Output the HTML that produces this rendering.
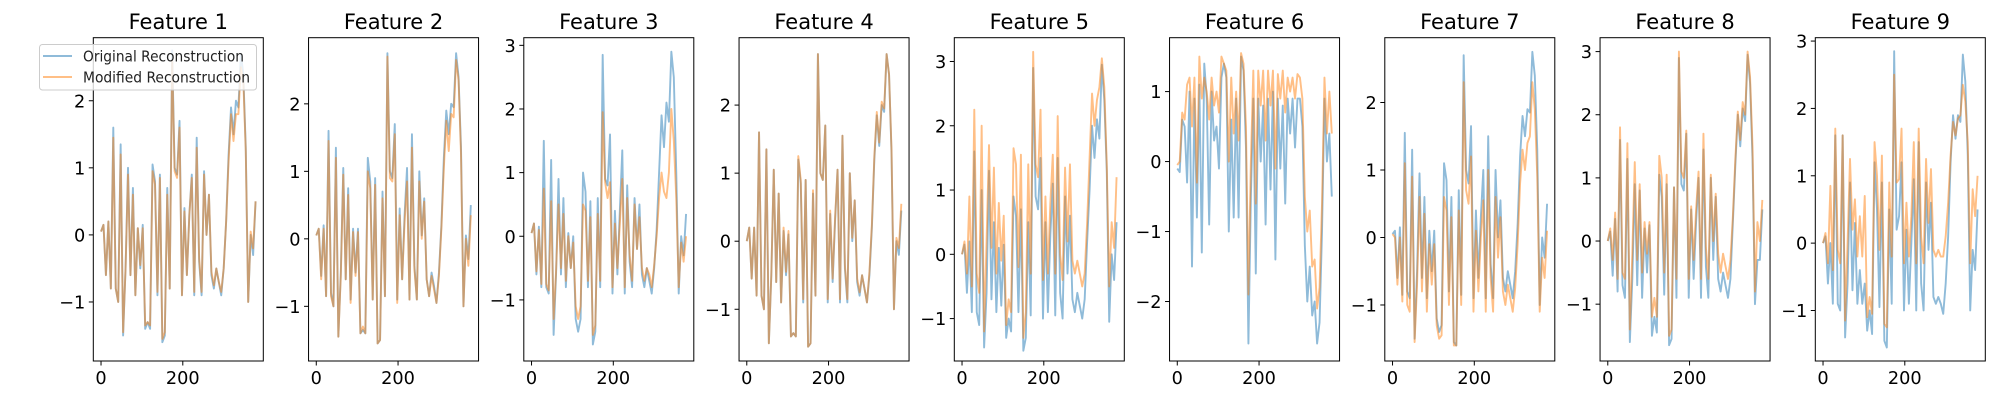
<!DOCTYPE html>
<html><head><meta charset="utf-8"><style>
html,body{margin:0;padding:0;background:#fff;}
svg{display:block;font-family:"DejaVu Sans","Liberation Sans",sans-serif;}
</style></head><body>
<svg id="fig" width="2000" height="400" viewBox="0 0 2000 400"></svg>
<script>
const titles = ["Feature 1","Feature 2","Feature 3","Feature 4","Feature 5","Feature 6","Feature 7","Feature 8","Feature 9"];
const xStep = 6;
const xTicks = [0, 200];
const yLims = [[-1.88,2.94],[-1.81,2.98],[-1.96,3.12],[-1.76,2.99],[-1.66,3.37],[-2.85,1.77],[-1.83,2.96],[-1.90,3.22],[-1.75,3.05]];
const yTicks = [[-1,0,1,2],[-1,0,1,2],[-1,0,1,2,3],[-1,0,1,2],[-1,0,1,2,3],[-2,-1,0,1],[-1,0,1,2],[-1,0,1,2,3],[-1,0,1,2,3]];
const orig1 = [0.05,0.15,-0.6,0.2,-0.8,1.6,-0.8,-1.0,1.35,-1.5,-0.5,1.0,-0.6,0.7,-0.9,0.1,-0.5,0.15,-1.4,-1.3,-1.4,1.05,0.8,-0.9,0.9,-1.6,-1.5,0.7,-0.8,2.75,1.0,0.9,1.7,-0.9,0.4,-0.6,0.3,0.9,-0.9,1.45,-0.4,-0.9,0.95,0.0,0.6,-0.6,-0.8,-0.5,-0.7,-0.9,-0.5,0.2,1.2,1.9,1.5,2.0,1.9,2.7,2.4,1.3,-1.0,0.0,-0.3,0.5];
const mod1 = [0.05,0.15,-0.6,0.2,-0.8,1.45,-0.8,-1.0,1.2,-1.45,-0.5,0.9,-0.6,0.6,-0.9,0.1,-0.45,0.1,-1.35,-1.3,-1.35,0.95,0.75,-0.85,0.85,-1.55,-1.45,0.6,-0.8,2.6,0.95,0.85,1.6,-0.9,0.35,-0.6,0.3,0.85,-0.85,1.3,-0.35,-0.85,0.9,0.0,0.6,-0.55,-0.75,-0.5,-0.7,-0.85,-0.5,0.2,1.1,1.8,1.4,1.8,1.8,2.5,2.3,1.25,-1.0,0.05,-0.2,0.5];
const orig2 = [0.05,0.15,-0.55,0.2,-0.85,1.6,-0.8,-1.0,1.35,-1.45,-0.5,1.05,-0.6,0.75,-0.9,0.15,-0.5,0.15,-1.4,-1.35,-1.4,1.2,0.85,-0.9,0.9,-1.55,-1.5,0.7,-0.85,2.75,1.0,0.9,1.7,-0.9,0.45,-0.6,0.35,1.05,-0.9,1.55,-0.4,-0.9,1.0,0.05,0.6,-0.6,-0.85,-0.5,-0.7,-0.95,-0.5,0.2,1.2,1.9,1.55,2.0,1.95,2.75,2.4,1.35,-1.0,0.05,-0.3,0.5];
const mod2 = [0.05,0.15,-0.6,0.15,-0.85,1.45,-0.85,-1.0,1.2,-1.45,-0.55,0.95,-0.6,0.65,-0.95,0.1,-0.55,0.1,-1.4,-1.3,-1.4,1.0,0.75,-0.9,0.8,-1.55,-1.5,0.6,-0.85,2.7,0.9,0.85,1.55,-0.95,0.35,-0.6,0.25,0.85,-0.9,1.35,-0.45,-0.9,0.85,0.0,0.55,-0.6,-0.85,-0.55,-0.75,-0.95,-0.55,0.15,1.05,1.75,1.3,1.85,1.8,2.65,2.35,1.25,-1.0,0.0,-0.4,0.35];
const orig3 = [0.05,0.2,-0.6,0.15,-0.8,1.5,-0.8,-0.9,1.2,-1.55,-0.6,0.9,-0.6,0.6,-0.8,0.05,-0.5,0.0,-1.3,-1.5,-1.3,1.0,0.7,-0.8,0.55,-1.7,-1.5,0.6,-0.8,2.85,0.9,0.8,1.6,-0.9,0.4,-0.6,0.4,1.35,-0.9,0.8,-0.4,-0.8,0.6,-0.2,0.5,-0.6,-0.8,-0.5,-0.7,-0.9,-0.5,0.1,1.0,1.9,1.4,2.1,1.8,2.9,2.5,1.0,-0.9,0.0,-0.3,0.35];
const mod3 = [0.05,0.2,-0.55,0.1,-0.75,0.75,-0.75,-0.85,0.55,-1.3,-0.55,0.5,-0.5,0.35,-0.7,0.0,-0.5,-0.1,-1.1,-1.3,-1.1,0.5,0.4,-0.7,0.3,-1.55,-1.4,0.35,-0.7,1.95,0.85,0.6,0.85,-0.8,0.2,-0.5,0.2,0.9,-0.8,0.6,-0.3,-0.7,0.5,-0.2,0.3,-0.5,-0.7,-0.5,-0.6,-0.8,-0.45,0.0,0.6,1.0,0.7,0.6,1.0,2.0,1.5,0.6,-0.8,-0.1,-0.4,0.0];
const orig4 = [0.0,0.2,-0.55,0.2,-0.8,1.6,-0.8,-1.0,1.35,-1.5,-0.5,1.05,-0.6,0.7,-0.9,0.15,-0.5,0.1,-1.4,-1.35,-1.4,1.2,0.85,-0.9,0.9,-1.55,-1.5,0.7,-0.8,2.75,1.0,0.9,1.7,-0.9,0.4,-0.6,0.3,1.05,-0.9,1.55,-0.4,-0.9,1.0,0.0,0.6,-0.6,-0.8,-0.5,-0.7,-0.9,-0.5,0.2,1.2,1.85,1.4,2.0,1.9,2.75,2.45,1.3,-1.0,0.0,-0.2,0.45];
const mod4 = [0.0,0.2,-0.55,0.2,-0.8,1.6,-0.8,-1.0,1.35,-1.5,-0.5,1.05,-0.6,0.7,-0.9,0.2,-0.45,0.15,-1.4,-1.35,-1.4,1.25,0.9,-0.85,0.9,-1.55,-1.5,0.75,-0.8,2.75,1.0,0.9,1.7,-0.85,0.45,-0.55,0.35,1.05,-0.85,1.55,-0.35,-0.85,1.0,0.05,0.6,-0.55,-0.75,-0.5,-0.7,-0.9,-0.45,0.25,1.25,1.9,1.45,2.05,1.95,2.75,2.45,1.35,-1.0,0.05,-0.1,0.55];
const orig5 = [0.0,0.15,-0.6,0.2,-0.9,1.6,-0.9,-1.1,1.0,-1.45,-0.6,1.3,-0.7,0.5,-0.9,0.1,-0.8,0.15,-1.3,-1.0,-1.2,0.9,0.6,-0.9,0.7,-1.5,-1.3,0.5,-0.95,2.9,0.9,0.7,1.5,-1.0,0.5,-0.9,0.3,1.1,-0.95,1.5,-0.6,-1.0,0.9,-0.3,0.6,-0.7,-0.9,-0.6,-0.8,-1.0,-0.7,0.2,1.0,2.0,1.5,2.1,1.8,2.95,2.4,1.3,-1.05,0.0,-0.4,0.5];
const mod5 = [0.0,0.2,-0.3,0.9,-0.5,2.25,-0.3,-0.6,2.0,-1.2,0.2,1.7,0.1,1.35,-0.3,0.8,-0.1,0.6,-1.1,-0.7,-0.9,1.65,1.4,-0.2,1.55,-1.3,-0.9,1.4,-0.3,3.15,1.4,1.2,2.25,-0.4,0.9,-0.3,0.8,1.55,-0.3,2.15,0.0,-0.4,1.35,0.2,1.4,-0.1,-0.3,-0.1,-0.3,-0.5,-0.3,0.5,1.5,2.5,2.0,2.4,2.6,3.05,2.6,1.4,-0.5,0.5,0.1,1.2];
const orig6 = [-0.1,-0.15,0.6,0.5,-0.3,1.0,-1.5,0.9,-0.8,1.1,-1.3,1.4,0.9,-0.9,1.0,0.3,0.5,-0.1,1.2,1.4,1.2,-1.0,0.6,-0.8,0.9,-0.8,1.5,1.3,0.2,-2.6,-0.5,0.9,-1.6,0.9,0.0,0.8,-0.9,0.9,-0.4,1.0,-1.4,0.9,-0.1,0.8,-0.6,0.9,0.4,0.9,0.2,0.9,0.9,0.5,-1.2,-2.0,-1.5,-2.2,-2.0,-2.6,-2.3,-1.0,0.9,0.0,0.4,-0.5];
const mod6 = [-0.05,0.0,0.7,0.6,1.1,1.2,0.5,1.2,-0.3,1.5,0.9,1.2,1.0,0.6,1.2,0.8,1.0,0.7,1.5,1.4,1.3,0.0,1.2,0.4,1.0,0.3,1.55,1.4,0.5,-1.9,0.0,1.3,-0.6,1.3,0.8,1.3,0.3,1.3,0.8,1.3,-0.1,1.25,0.9,1.3,0.7,1.2,1.0,1.2,0.9,1.25,1.2,0.9,-0.5,-1.0,-0.7,-1.5,-1.4,-2.1,-1.8,-0.6,1.2,0.4,1.0,0.4];
const orig7 = [0.05,0.1,-0.6,0.15,-0.85,1.55,-0.8,-0.9,1.3,-1.5,-0.5,0.95,-0.6,0.6,-0.9,0.1,-0.5,0.1,-1.2,-1.4,-1.3,1.1,0.85,-0.8,0.6,-1.55,-1.6,0.7,-0.85,2.7,1.0,0.8,1.65,-0.9,0.4,-0.6,0.3,1.0,-0.9,1.5,-0.4,-0.9,1.0,0.0,0.55,-0.6,-0.8,-0.5,-0.7,-0.9,-0.5,0.2,1.2,1.8,1.5,1.9,1.85,2.75,2.4,1.3,-1.0,0.0,-0.3,0.5];
const mod7 = [0.05,0.0,-0.7,0.0,-0.95,1.1,-1.0,-1.1,0.9,-1.55,-0.7,0.6,-0.8,0.35,-1.1,-0.1,-0.7,-0.1,-1.3,-1.5,-1.45,0.6,0.4,-1.0,0.3,-1.6,-1.6,0.4,-1.0,2.3,0.7,0.5,1.2,-1.1,0.1,-0.8,0.0,0.55,-1.1,1.0,-0.6,-1.1,0.6,-0.3,0.3,-0.8,-1.0,-0.7,-0.9,-1.1,-0.75,-0.1,0.8,1.3,1.0,1.4,1.5,2.3,1.9,0.9,-1.1,-0.3,-0.6,0.1];
const orig8 = [0.0,0.15,-0.55,0.35,-0.8,1.6,-0.7,-0.9,1.3,-1.6,-0.6,0.9,-0.7,0.8,-0.9,0.2,-0.5,0.25,-1.5,-1.2,-1.45,1.05,0.7,-0.85,0.9,-1.65,-1.55,0.85,-0.9,2.9,0.9,0.8,1.7,-0.9,0.5,-0.6,0.3,1.0,-0.9,1.45,-0.4,-0.9,1.0,-0.3,0.7,-0.6,-0.8,-0.5,-0.7,-0.9,-0.6,0.3,1.2,2.0,1.5,2.1,1.9,2.95,2.5,1.3,-1.0,-0.3,-0.3,0.5];
const mod8 = [0.0,0.2,-0.3,0.45,-0.6,1.8,-0.5,-0.6,1.55,-1.4,-0.2,1.25,-0.3,0.9,-0.5,0.3,-0.2,0.3,-1.2,-0.9,-1.2,1.35,1.0,-0.5,1.05,-1.5,-1.4,0.85,-0.6,3.0,1.1,1.0,1.75,-0.6,0.55,-0.3,0.5,1.1,-0.6,1.7,-0.1,-0.6,1.05,0.0,0.75,-0.2,-0.5,-0.2,-0.4,-0.6,-0.3,0.4,1.3,2.05,1.6,2.2,2.0,3.0,2.6,1.5,-0.8,0.3,0.0,0.65];
const orig9 = [0.0,0.1,-0.6,0.0,-0.9,1.6,-0.9,-1.0,1.6,-1.4,-0.6,0.9,-0.7,0.3,-0.9,-0.4,-0.9,-0.6,-1.3,-1.0,-1.35,1.2,0.5,-0.95,0.9,-1.45,-1.55,0.5,-0.9,2.85,0.2,0.4,1.2,-1.0,0.2,-0.9,0.0,0.95,-1.0,1.5,-0.6,-1.0,0.9,-0.1,0.6,-0.8,-0.9,-0.8,-0.9,-1.05,-0.6,0.1,1.2,1.9,1.55,1.9,1.8,2.8,2.4,1.3,-1.0,-0.1,-0.4,0.5];
const mod9 = [0.0,0.15,-0.3,0.85,-0.4,1.7,-0.1,-0.3,1.6,-1.15,0.0,1.25,0.2,0.65,-0.2,0.4,-0.2,0.7,-1.1,-0.8,-1.05,1.5,1.0,-0.1,1.3,-1.2,-1.25,0.9,-0.2,2.5,0.9,0.95,1.7,-0.3,0.6,-0.2,0.4,1.5,-0.3,1.7,0.1,-0.3,1.25,0.3,1.1,-0.1,-0.2,-0.1,-0.2,-0.2,0.1,0.6,1.3,1.8,1.6,1.85,1.9,2.35,2.1,1.5,-0.3,0.8,0.4,1.0];
const origSeries = [orig1,orig2,orig3,orig4,orig5,orig6,orig7,orig8,orig9];
const modSeries = [mod1,mod2,mod3,mod4,mod5,mod6,mod7,mod8,mod9];

const NS = "http://www.w3.org/2000/svg";
const svg = document.getElementById("fig");
const axLeft0 = 93.3, axSpacing = 215.25, axW = 170, axTop = 37.7, axBottom = 361;
const xMin = -18.9, xMax = 396.9;
function mk(tag, attrs, parent) {
  const e = document.createElementNS(NS, tag);
  for (const k in attrs) e.setAttribute(k, attrs[k]);
  (parent || svg).appendChild(e);
  return e;
}
titles.forEach((t, i) => {
  const L = axLeft0 + i * axSpacing;
  const [y0, y1] = yLims[i];
  const sx = v => L + (v - xMin) / (xMax - xMin) * axW;
  const sy = v => axBottom - (v - y0) / (y1 - y0) * (axBottom - axTop);
  const g = mk("g", {});
  
  
  const clipId = "clip" + i;
  const cp = mk("clipPath", { id: clipId }, g);
  mk("rect", { x: L, y: axTop, width: axW, height: axBottom - axTop }, cp);
  const lines = mk("g", { "clip-path": "url(#" + clipId + ")" }, g);
  [[origSeries[i], "#1f77b4", "original"], [modSeries[i], "#ff7f0e", "modified"]].forEach(([arr, col, nm]) => {
    const pts = arr.map((v, j) => sx(j * xStep).toFixed(2) + "," + sy(v).toFixed(2)).join(" ");
    const pl = mk("polyline", { points: pts, fill: "none", stroke: col, "stroke-opacity": 0.5, "stroke-width": 1.9, "stroke-linejoin": "round" }, lines);
    
    
  });
  const frame = mk("rect", { x: L, y: axTop, width: axW, height: axBottom - axTop, fill: "none", stroke: "#000", "stroke-width": 1 }, g);
  
  
  const title = mk("text", { x: L + axW / 2, y: 29, "text-anchor": "middle", "font-size": 21, fill: "#000" }, g);
  title.textContent = t;
  
  
  xTicks.forEach(v => {
    const x = sx(v);
    mk("line", { x1: x, x2: x, y1: axBottom, y2: axBottom + 4.5, stroke: "#000", "stroke-width": 1 }, g);
    const tl = mk("text", { x: x, y: axBottom + 23, "text-anchor": "middle", "font-size": 17.7, fill: "#000" }, g);
    tl.textContent = v;
    
    
  });
  yTicks[i].forEach(v => {
    const y = sy(v);
    mk("line", { x1: L - 4.5, x2: L, y1: y, y2: y, stroke: "#000", "stroke-width": 1 }, g);
    const tl = mk("text", { x: L - 8, y: y + 6.5, "text-anchor": "end", "font-size": 17.7, fill: "#000" }, g);
    tl.textContent = v < 0 ? "\u2212" + Math.abs(v) : String(v);
    
    
  });
});
// legend
const lg = mk("g", {});


mk("rect", { x: 39.5, y: 44.5, width: 217, height: 45.5, rx: 3, fill: "#fff", "fill-opacity": 0.8, stroke: "#ccc", "stroke-width": 1 }, lg);
[["Original Reconstruction", "#1f77b4", 56, 161], ["Modified Reconstruction", "#ff7f0e", 77, 167]].forEach(([txt, col, y, w]) => {
  const e = mk("g", {}, lg);
  
  
  mk("line", { x1: 43, x2: 72, y1: y, y2: y, stroke: col, "stroke-opacity": 0.5, "stroke-width": 1.9 }, e);
  const t = mk("text", { x: 83, y: y + 5.5, "font-size": 15, fill: "#222", textLength: w, lengthAdjust: "spacingAndGlyphs" }, e);
  t.textContent = txt;
});
</script>
</body></html>
